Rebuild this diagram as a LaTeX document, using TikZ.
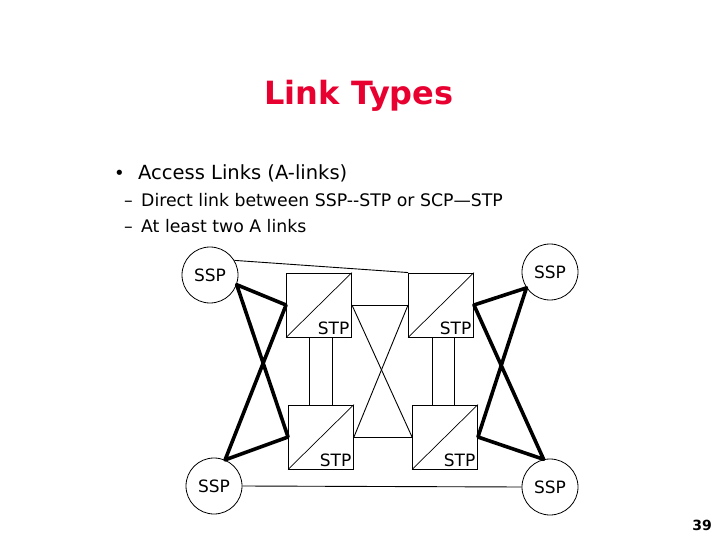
\documentclass[tikz,border=0pt]{standalone}
\usepackage{fontspec}
\setmainfont{DejaVu Sans}
\definecolor{ttlred}{RGB}{232,0,48}
\usetikzlibrary{calc}

\begin{document}
\begin{tikzpicture}[x=1pt,y=-1pt]
    \tikzset{sspnode/.style={circle, draw, line width=0.8pt, minimum size=56pt, inner sep=0pt, font=\fontsize{17}{20}\selectfont},
      stpbox/.style={rectangle, draw, line width=0.9pt, minimum width=65pt, minimum height=64pt, inner sep=0pt},
      stplabel/.style={anchor=south east, inner sep=2.5pt, font=\fontsize{17}{20}\selectfont},
      alink/.style={line width=3.6pt, line cap=round, line join=round},
      thinlink/.style={line width=0.9pt}}
    \useasboundingbox (0,0) rectangle (720,540);

    % Title and bullets
    \node[anchor=base, font=\fontsize{32}{36}\selectfont\bfseries, text=ttlred] (title) at (359,105) {Link Types};
    \node[anchor=base west, font=\fontsize{18}{22}\selectfont, inner sep=0pt] (bul) at (114,180) {•};
    \node[anchor=base west, font=\fontsize{19.5}{24}\selectfont, inner sep=0pt] (item) at (138,180) {Access Links (A-links)};
    \node[anchor=base west, font=\fontsize{17.3}{20}\selectfont, inner sep=0pt] (d1) at (124,207) {–};
    \node[anchor=base west, font=\fontsize{17.3}{20}\selectfont, inner sep=0pt] (sub1) at (141,207) {Direct link between SSP-{}-STP or SCP—STP};
    \node[anchor=base west, font=\fontsize{17.3}{20}\selectfont, inner sep=0pt] (d2) at (124,233) {–};
    \node[anchor=base west, font=\fontsize{17.3}{20}\selectfont, inner sep=0pt] (sub2) at (141,233) {At least two A links};

    % SSPs
    \node[sspnode] (sspA) at (210,275) {SSP};
    \node[sspnode] (sspB) at (550,272) {SSP};
    \node[sspnode] (sspC) at (214,486) {SSP};
    \node[sspnode] (sspD) at (550,487) {SSP};

    % STP pairs
    \node[stpbox] (stpA) at (319,305) {};
    \node[stpbox] (stpB) at (441,305) {};
    \node[stpbox] (stpC) at (321,437) {};
    \node[stpbox] (stpD) at (445,437) {};
    \foreach \b in {stpA,stpB,stpC,stpD}{
      \draw[line width=0.7pt] (\b.south west) -- (\b.north east);
      \node[stplabel] at (\b.south east) {STP};
    }

    % links between STPs
    \draw[thinlink] (stpA.east) -- (stpB.west);
    \draw[thinlink] (stpC.east) -- (stpD.west);
    \draw[thinlink] (stpA.east) -- (stpD.west);
    \draw[thinlink] (stpB.west) -- (stpC.east);
    \coordinate (va1) at ($(stpA.south)+(-10,0)$);
    \coordinate (va2) at ($(stpA.south)+(13,0)$);
    \coordinate (vb1) at ($(stpB.south)+(-9,0)$);
    \coordinate (vb2) at ($(stpB.south)+(13,0)$);
    \draw[thinlink] (va1) -- (va1 |- stpC.north);
    \draw[thinlink] (va2) -- (va2 |- stpC.north);
    \draw[thinlink] (vb1) -- (vb1 |- stpD.north);
    \draw[thinlink] (vb2) -- (vb2 |- stpD.north);

    % other thin links
    \draw[thinlink] (sspA.31) -- (stpB.north west);
    \draw[thinlink] (sspC.east) -- (sspD.west);

    % A-links
    \draw[alink] (stpA.west) -- (sspA.-20) -- (stpC.west) -- (sspC.67) -- cycle;
    \draw[alink] (stpB.east) -- (sspB.-146) -- (stpD.east) -- (sspD.103) -- cycle;

    % page number
    \node[anchor=base east, font=\fontsize{14}{16}\selectfont\bfseries, inner sep=0pt] (pg) at (712,530) {39};
\end{tikzpicture}
\end{document}
